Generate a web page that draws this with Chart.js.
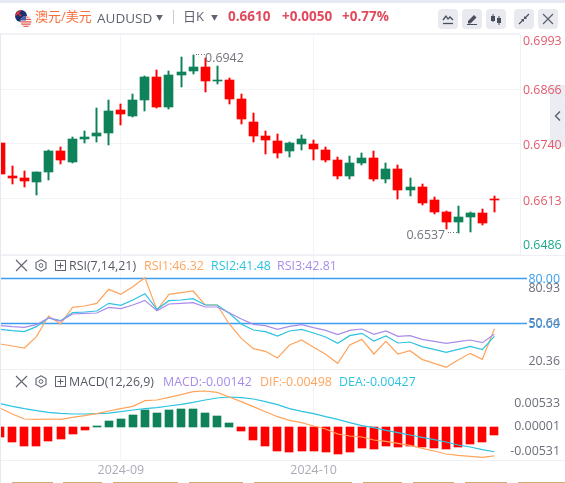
<!DOCTYPE html>
<html>
<head>
<meta charset="utf-8">
<title>AUDUSD</title>
<script src="https://cdn.jsdelivr.net/npm/chart.js@4/dist/chart.umd.min.js"></script>
<style>
html, body { margin: 0; padding: 0; background: #fff; width: 565px; height: 483px; overflow: hidden; }
body { position: relative; font-family: "Open Sans", "Noto Sans CJK SC", sans-serif; }
canvas { position: absolute; left: 0; display: block; }
.t { position: absolute; white-space: nowrap; line-height: 16px; height: 16px; font-size: 12.4px; z-index: 3; }
.line { position: absolute; z-index: 1; background: #eff0f4; }
.btn { position: absolute; top: 9px; width: 20px; height: 20px; border-radius: 4px; background: #e8eaf0; z-index: 3; }
.btn svg { display: block; }
.ico { position: absolute; z-index: 3; }
.tab { position: absolute; top: 482px; height: 1px; background: #d0ab74; z-index: 3; }
</style>
</head>
<body>
<div class="line" style="left:0;top:0;width:565px;height:3px;background:#e6e9f1"></div>
<div class="line" style="left:0;top:33px;width:1px;height:450px;background:#e6e9f1;z-index:4"></div>
<div class="line" style="left:0;top:33px;width:520px;height:1px"></div>
<div class="line" style="left:0;top:255px;width:565px;height:1px"></div>
<div class="line" style="left:0;top:369px;width:565px;height:1px"></div>
<div class="line" style="left:0;top:460px;width:565px;height:1px"></div>

<svg class="ico" style="left:14px;top:9px" width="20" height="19" viewBox="0 0 20 19">
  <clipPath id="au"><circle cx="7" cy="7" r="6"/></clipPath>
  <clipPath id="us"><circle cx="12" cy="12.5" r="5.5"/></clipPath>
  <g clip-path="url(#au)"><rect width="14" height="14" fill="#1c2f6e"/><path d="M1 1 L7 7 M7 1 L1 7" stroke="#e33" stroke-width="1.4"/><circle cx="10" cy="9" r="1.2" fill="#fff"/></g>
  <g clip-path="url(#us)"><rect x="6" y="7" width="12" height="11" fill="#fff"/><path d="M6 8 H18 M6 10.4 H18 M6 12.8 H18 M6 15.2 H18 M6 17.4 H18" stroke="#e2564f" stroke-width="1.2"/><rect x="6" y="7" width="6" height="4.5" fill="#4a5fa8"/></g>
</svg>
<span class="t" style="left:35px;top:8px;font-size:13px;color:#f8703d">澳元/美元</span>
<span class="t" style="left:97px;top:10px;font-size:13.5px;color:#5f6371">AUDUSD</span>
<span class="t" style="left:156px;top:10px;font-size:7px;color:#5f6371">▼</span>
<div class="line" style="left:173px;top:10px;width:1px;height:14px;background:#c9ccd6;z-index:3"></div>
<span class="t" style="left:183px;top:8px;font-size:13px;color:#5f6371">日K</span>
<span class="t" style="left:211px;top:10px;font-size:7px;color:#5f6371">▼</span>
<span class="t" style="left:228px;top:8px;font-size:13.5px;font-weight:700;color:#e04a5c">0.6610</span>
<span class="t" style="left:282px;top:8px;font-size:13.5px;font-weight:700;color:#e04a5c">+0.0050</span>
<span class="t" style="left:342px;top:8px;font-size:13.5px;font-weight:700;color:#e04a5c">+0.77%</span>

<div class="btn" style="left:438px"><svg width="20" height="20"><path d="M5 11 L8 7 L10 10 L12 8 L15 11" fill="none" stroke="#4a4e5c" stroke-width="1.3"/><path d="M5 14.5 H15" stroke="#4a4e5c" stroke-width="1.3"/></svg></div>
<div class="btn" style="left:462px"><svg width="20" height="20"><path d="M6 12 L12 6 L14.5 8.5 L8.5 14.5 H6 Z" fill="#4a4e5c"/><path d="M5 15.5 H15" stroke="#4a4e5c" stroke-width="1"/></svg></div>
<div class="btn" style="left:486px"><svg width="20" height="20"><path d="M7 5 V13 M13 7 V16" stroke="#4a4e5c"/><rect x="5" y="7" width="4" height="5" fill="#4a4e5c"/><rect x="11" y="9" width="4" height="5" fill="#4a4e5c"/></svg></div>
<div class="btn" style="left:514px"><svg width="20" height="20"><path d="M5 15 L9 11 M15 5 L11 9" stroke="#4a4e5c" stroke-width="1.2"/><path d="M7 10 H10 V13 Z M13 10 H10 V7 Z" fill="#4a4e5c"/></svg></div>
<div class="btn" style="left:538px"><svg width="20" height="20"><path d="M5 5 L15 15 M15 5 L5 15" stroke="#5a5e6c" stroke-width="1.2"/></svg></div>

<div class="line" style="left:550px;top:85px;width:15px;height:62px;background:#ecedf2;z-index:0"></div>
<svg class="ico" style="left:553px;top:110px" width="10" height="12"><path d="M7 1.5 L2.5 6 L7 10.5" fill="none" stroke="#5a5e6c" stroke-width="1.4"/></svg>

<svg class="ico" style="left:15px;top:259px" width="52" height="13"><path d="M1 1 L12 12 M12 1 L1 12" stroke="#5f6371" stroke-width="1.1" fill="none"/><path d="M26 0.8 L31 3.6 V9.4 L26 12.2 L21 9.4 V3.6 Z" fill="none" stroke="#5f6371" stroke-width="1.1"/><circle cx="26" cy="6.5" r="1.9" fill="none" stroke="#5f6371"/><rect x="40.5" y="1.5" width="10" height="10" fill="none" stroke="#5f6371"/><path d="M42.5 6.5 H48.5 M45.5 3.5 V9.5" stroke="#5f6371"/></svg>
<span class="t" style="left:69px;top:258px;color:#555965">RSI(7,14,21)</span>
<span class="t" style="left:144px;top:258px;color:#ffa45c">RSI1:46.32</span>
<span class="t" style="left:211px;top:258px;color:#2cc3e0">RSI2:41.48</span>
<span class="t" style="left:277px;top:258px;color:#a98bea">RSI3:42.81</span>

<svg class="ico" style="left:15px;top:375px" width="52" height="13"><path d="M1 1 L12 12 M12 1 L1 12" stroke="#5f6371" stroke-width="1.1" fill="none"/><path d="M26 0.8 L31 3.6 V9.4 L26 12.2 L21 9.4 V3.6 Z" fill="none" stroke="#5f6371" stroke-width="1.1"/><circle cx="26" cy="6.5" r="1.9" fill="none" stroke="#5f6371"/><rect x="40.5" y="1.5" width="10" height="10" fill="none" stroke="#5f6371"/><path d="M42.5 6.5 H48.5 M45.5 3.5 V9.5" stroke="#5f6371"/></svg>
<span class="t" style="left:69px;top:374px;color:#555965">MACD(12,26,9)</span>
<span class="t" style="left:163px;top:374px;color:#a98bea">MACD:-0.00142</span>
<span class="t" style="left:260px;top:374px;color:#ffa45c">DIF:-0.00498</span>
<span class="t" style="left:339px;top:374px;color:#2cc3e0">DEA:-0.00427</span>

<div class="tab" style="left:12px;width:41px"></div>
<div class="tab" style="left:63px;width:39px"></div>
<div class="tab" style="left:113px;width:65px"></div>
<div class="tab" style="left:189px;width:54px"></div>
<div class="tab" style="left:254px;width:52px"></div>
<div class="tab" style="left:298px;width:54px"></div>
<div class="tab" style="left:363px;width:39px"></div>
<div class="tab" style="left:413px;width:41px"></div>
<div class="tab" style="left:465px;width:42px"></div>
<div class="tab" style="left:518px;width:47px"></div>

<canvas id="priceChart" width="565" height="222" style="top:33px"></canvas>
<canvas id="rsiChart" width="565" height="113" style="top:256px"></canvas>
<canvas id="macdChart" width="565" height="110" style="top:370px"></canvas>

<script>
// values, one entry per daily candle
const opens = [0.67418,0.66657,0.66611,0.66519,0.66749,0.67233,0.66980,0.67510,0.67579,0.67648,0.68178,0.68040,0.68409,0.68939,0.68247,0.68985,0.69077,0.69169,0.68847,0.68870,0.68432,0.67902,0.67579,0.67464,0.67233,0.67395,0.67395,0.67256,0.67026,0.66657,0.66957,0.67072,0.66588,0.66818,0.66334,0.66403,0.66104,0.65827,0.65597,0.65712,0.65804,0.66127];
const closes = [0.66703,0.66611,0.66542,0.66749,0.67233,0.67026,0.67510,0.67556,0.67648,0.68155,0.68086,0.68409,0.68939,0.68247,0.68985,0.69054,0.69169,0.68847,0.68870,0.68432,0.67971,0.67579,0.67487,0.67187,0.67418,0.67510,0.67279,0.67026,0.66657,0.66957,0.67072,0.66588,0.66818,0.66334,0.66403,0.66034,0.65827,0.65597,0.65712,0.65804,0.65574,0.66104];
const highs = [0.67418,0.66887,0.66772,0.66749,0.67256,0.67325,0.67556,0.67694,0.68224,0.68409,0.68317,0.68547,0.68962,0.69100,0.69077,0.69400,0.69446,0.69377,0.69192,0.68916,0.68547,0.68109,0.67694,0.67625,0.67441,0.67602,0.67487,0.67325,0.67095,0.67118,0.67187,0.67233,0.66957,0.66911,0.66611,0.66472,0.66173,0.65850,0.65965,0.65827,0.65896,0.66196];
const lows = [0.66703,0.66472,0.66403,0.66219,0.66565,0.66934,0.66957,0.67418,0.67441,0.67372,0.67832,0.68017,0.68155,0.68224,0.68201,0.68708,0.69008,0.68593,0.68778,0.68317,0.67856,0.67441,0.67164,0.67072,0.67095,0.67256,0.67026,0.66980,0.66588,0.66588,0.66911,0.66542,0.66495,0.66127,0.66196,0.65988,0.65781,0.65435,0.65343,0.65366,0.65528,0.65827];

const rsi1 = [36.33,35.0,33.67,41.22,55.0,49.67,60.78,61.67,63.44,72.78,69.44,74.56,80.56,59.0,69.44,70.56,71.67,62.33,62.33,49.67,40.11,33.22,31.44,27.0,35.67,39.0,34.11,29.44,23.44,35.67,39.44,29.67,38.11,29.67,31.89,26.11,23.44,20.78,25.67,30.11,26.11,46.32];
const rsi2 = [46.11,45.22,44.56,47.89,53.67,51.89,57.22,57.67,58.33,63.44,62.11,65.67,69.89,59.44,65.22,65.67,66.56,62.33,62.33,56.78,49.67,45.67,44.56,41.67,45.0,46.11,43.67,41.0,36.78,41.89,43.44,38.33,41.67,37.0,37.67,34.56,32.78,30.78,32.78,34.78,32.56,41.48];
const rsi3 = [48.56,47.89,47.44,49.22,53.67,51.67,56.33,56.78,57.0,60.78,59.89,62.33,65.44,58.56,63.0,63.44,63.89,61.0,61.0,57.22,53.0,49.44,48.56,46.11,48.11,49.22,47.22,45.44,42.56,45.44,46.33,42.78,45.0,41.44,41.89,39.44,38.11,36.78,37.89,39.0,37.22,42.81];
const rsiLevels = [80, 50];

const macdBars = [-0.00167,-0.00259,-0.00328,-0.00328,-0.00241,-0.00207,-0.00121,-0.00052,0.00010,0.00103,0.00138,0.00207,0.00293,0.00241,0.00293,0.00310,0.00310,0.00241,0.00190,0.00069,-0.00069,-0.00224,-0.00328,-0.00414,-0.00431,-0.00414,-0.00414,-0.00431,-0.00466,-0.00431,-0.00362,-0.00379,-0.00328,-0.00345,-0.00328,-0.00345,-0.00362,-0.00379,-0.00345,-0.00293,-0.00259,-0.00142];
const dif = [0.00322,0.00224,0.00138,0.00132,0.00138,0.00132,0.00167,0.00195,0.00230,0.00276,0.00316,0.00356,0.00454,0.00466,0.00511,0.00557,0.00609,0.00621,0.00598,0.00517,0.00437,0.00351,0.00264,0.00178,0.00115,0.00075,0.00017,-0.00034,-0.00121,-0.00155,-0.00172,-0.00224,-0.00247,-0.00282,-0.00316,-0.00368,-0.00414,-0.00466,-0.00489,-0.00506,-0.00523,-0.00498];
const dea = [0.00402,0.00356,0.00316,0.00282,0.00253,0.00236,0.00224,0.00224,0.00230,0.00241,0.00264,0.00293,0.00316,0.00333,0.00362,0.00391,0.00425,0.00466,0.00500,0.00517,0.00506,0.00483,0.00437,0.00385,0.00316,0.00270,0.00230,0.00178,0.00132,0.00075,0.00023,-0.00011,-0.00057,-0.00098,-0.00138,-0.00178,-0.00218,-0.00259,-0.00310,-0.00345,-0.00391,-0.00427];

// axis ticks
const monthIndexes = [10, 26];
const monthLabels = ['2024-09', '2024-10'];
const priceTicks = [0.6993, 0.6866, 0.6740, 0.6613, 0.6486];
const rsiTicks = [80.93, 80, 50.64, 50, 20.36];
const macdTicks = [0.00533, 0.00001, -0.00531];

const RED = '#ff0000', GREEN = '#0f8259', ORANGE = '#ffa45c', CYAN = '#2cc3e0', PURPLE = '#a98bea', BLUE = '#3a9df0', GRID = '#f3f4f7';
const TEXT_FONT = { family: '"Open Sans", sans-serif', size: 12.4 };

// candles sit 12.05px apart and the first one is cut by the left edge
const xFromPx = px => (px - 0.3) / 12.05;
const indexes = opens.map((v, i) => i);
const candleColor = i => closes[i] >= opens[i] ? GREEN : RED;

// some axis labels in the original sit off their tick (kept inside the panel)
function shiftTickLabels(shifts) {
    return {
        id: 'shiftTickLabels',
        beforeDraw(chart) {
            const y = chart.scales.y;
            y.getLabelItems().forEach((item, i) => {
                item.options.translation[1] = y.getPixelForTick(i) + shifts[i];
            });
        }
    };
}

// keep bar edges on whole pixels so they stay sharp
const snapBars = {
    id: 'snapBars',
    beforeDatasetsDraw(chart) {
        chart.getSortedVisibleDatasetMetas().forEach(meta => {
            if (meta.type !== 'bar') return;
            meta.data.forEach(bar => {
                bar.x = bar.width === 8 ? Math.round(bar.x) : Math.round(bar.x - 0.5) + 0.5;
                bar.y = Math.round(bar.y);
                bar.base = Math.round(bar.base);
            });
        });
    }
};

// the high and low markers on the price panel
const extremeMarks = {
    id: 'extremeMarks',
    afterDatasetsDraw(chart) {
        const { ctx, scales: { x, y } } = chart;
        const hi = highs.indexOf(Math.max(...highs));
        const lo = lows.indexOf(Math.min(...lows));
        ctx.save();
        ctx.fillStyle = '#71747f';
        ctx.font = '12.4px "Open Sans", sans-serif';
        ctx.textBaseline = 'middle';
        const hx = x.getPixelForValue(hi), hy = y.getPixelForValue(highs[hi]);
        const lx = x.getPixelForValue(lo), ly = y.getPixelForValue(lows[lo]);
        for (let k = 1; k < 5; k++) {
            ctx.fillRect(Math.round(hx + k * 2.6), Math.round(hy - 1), 1, 1);
            ctx.fillRect(Math.round(lx - k * 2.6), Math.round(ly - 1), 1, 1);
        }
        ctx.textAlign = 'left';
        ctx.fillText('0.6942', hx + 12, hy + 3);
        ctx.textAlign = 'right';
        ctx.fillText('0.6537', lx - 13, ly + 2);
        ctx.restore();
    }
};

function panelOptions(cfg) {
    return {
        responsive: false,
        animation: false,
        events: [],
        layout: { padding: cfg.padding || 0 },
        plugins: { legend: { display: false }, tooltip: { enabled: false } },
        scales: {
            x: {
                type: 'linear',
                offset: false,
                min: xFromPx(0),
                max: xFromPx(cfg.rightPx),
                afterBuildTicks: s => { s.ticks = monthIndexes.map(v => ({ value: v })); },
                afterFit: s => {
                    s.height = cfg.xLabels ? 20 : 0;
                    s.paddingLeft = s.paddingRight = 0;
                },
                border: { display: false },
                grid: { color: GRID, offset: false, drawTicks: false },
                ticks: {
                    display: !!cfg.xLabels,
                    autoSkip: false,
                    maxRotation: 0,
                    padding: 3,
                    color: '#a9abb8',
                    font: TEXT_FONT,
                    callback: v => monthLabels[monthIndexes.indexOf(v)]
                }
            },
            y: {
                position: 'right',
                min: cfg.yMin,
                max: cfg.yMax,
                afterBuildTicks: s => { s.ticks = cfg.yTicks.map(v => ({ value: v })); },
                afterFit: s => {
                    s.width = cfg.yWidth;
                    s.paddingTop = s.paddingBottom = 0;
                },
                border: cfg.yBorder ? { display: true, color: '#eff0f4' } : { display: false },
                grid: { display: !!cfg.yGrid, color: GRID, drawTicks: false },
                ticks: {
                    autoSkip: false,
                    mirror: !!cfg.yMirror,
                    padding: cfg.yMirror ? -5 : 3,
                    font: TEXT_FONT,
                    color: cfg.tickColor,
                    callback: v => v.toFixed(cfg.digits)
                }
            }
        }
    };
}

function lineSet(values, color) {
    return {
        type: 'line',
        data: values.map((v, i) => ({ x: i, y: v })),
        borderColor: color,
        borderWidth: 1.2,
        pointRadius: 0,
        tension: 0
    };
}

new Chart(document.getElementById('priceChart'), {
    type: 'bar',
    data: {
        datasets: [{
            data: indexes.map(i => ({ x: i, y: [lows[i], highs[i]] })),
            backgroundColor: indexes.map(candleColor),
            barThickness: 1.3,
            grouped: false
        }, {
            data: indexes.map(i => ({ x: i, y: [opens[i], closes[i]] })),
            backgroundColor: indexes.map(candleColor),
            barThickness: 9,
            grouped: false
        }]
    },
    options: panelOptions({
        padding: { top: 1, bottom: 1 },
        rightPx: 520,
        yMin: 0.6486,
        yMax: 0.6993,
        yTicks: priceTicks,
        yWidth: 45,
        yGrid: true,
        yBorder: true,
        digits: 4,
        tickColor: c => c.index === priceTicks.length - 1 ? '#1aa88c' : '#e25a6c'
    }),
    plugins: [shiftTickLabels([7.5, 1.5, 1.5, 2.5, -8.5]), snapBars, extremeMarks]
});

new Chart(document.getElementById('rsiChart'), {
    type: 'line',
    data: {
        datasets: [
            lineSet(rsi3, PURPLE),
            lineSet(rsi2, CYAN),
            lineSet(rsi1, ORANGE)
        ].concat(rsiLevels.map(level => ({
            data: [{ x: xFromPx(0), y: level }, { x: xFromPx(527), y: level }],
            borderColor: BLUE,
            borderWidth: 1.3,
            pointRadius: 0
        })))
    },
    options: panelOptions({
        rightPx: 565,
        yMin: 19.67,
        yMax: 95,
        yTicks: rsiTicks,
        yWidth: 0,
        yMirror: true,
        digits: 2,
        tickColor: c => rsiLevels.includes(rsiTicks[c.index]) ? BLUE : '#6b6e7a'
    }),
    plugins: [shiftTickLabels([11.5, 1, 1, 1, -6])]
});

new Chart(document.getElementById('macdChart'), {
    type: 'bar',
    data: {
        datasets: [lineSet(dif, ORANGE), lineSet(dea, CYAN), {
            data: macdBars.map((v, i) => ({ x: i, y: v })),
            backgroundColor: macdBars.map(v => v >= 0 ? GREEN : RED),
            barThickness: 8,
            grouped: false,
            order: 1
        }]
    },
    options: panelOptions({
        rightPx: 565,
        yMin: -0.00569,
        yMax: 0.00983,
        yTicks: macdTicks,
        yWidth: 0,
        yMirror: true,
        xLabels: true,
        digits: 5,
        tickColor: '#6b6e7a'
    }),
    plugins: [shiftTickLabels([7, 0, -6]), snapBars]
});
</script>
</body>
</html>
